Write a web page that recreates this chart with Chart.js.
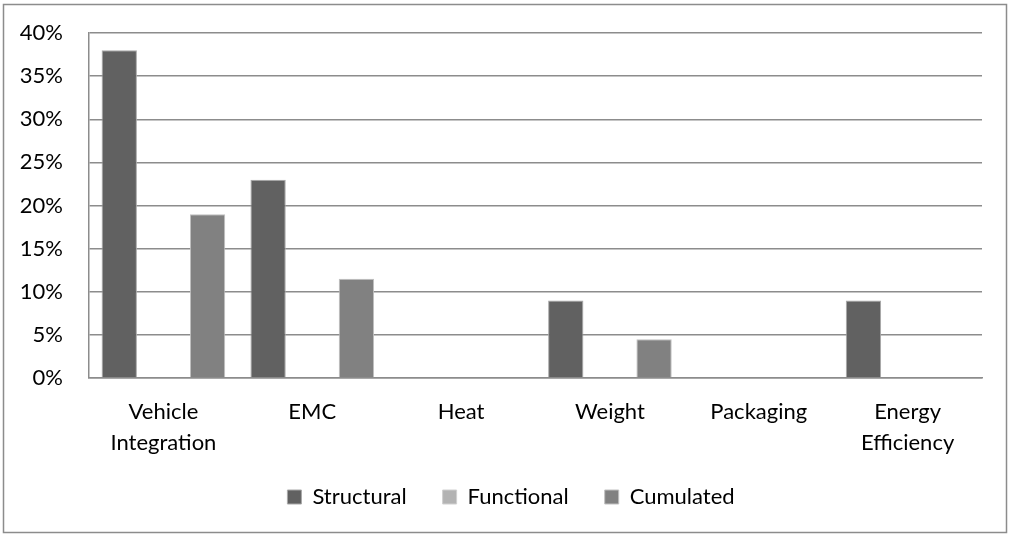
<!DOCTYPE html>
<html>
<head>
<meta charset="utf-8">
<script src="https://cdn.jsdelivr.net/npm/chart.js@4"></script>
<style>
html,body{margin:0;padding:0;background:#fff;}
#wrap{position:absolute;left:0;top:0;width:1010px;height:536px;}
</style>
</head>
<body>
<div id="wrap"><canvas id="c" width="1010" height="536"></canvas></div>
<script>
const categories = [["Vehicle","Integration"], "EMC", "Heat", "Weight", "Packaging", ["Energy","Efficiency"]];
const structural = [38, 23, 0, 9, 0, 9];
const functional = [0, 0, 0, 0, 0, 0];
const cumulated = [19, 11.5, 0, 4.5, 0, 0];
const yTicks = [0, 5, 10, 15, 20, 25, 30, 35, 40];

const FONT = "'Lato', 'Open Sans', sans-serif";

const borderPlugin = {
  id: 'outerBorder',
  beforeDraw(chart) {
    const ctx = chart.ctx;
    ctx.save();
    ctx.strokeStyle = '#8c8c8c';
    ctx.lineWidth = 1.5;
    ctx.strokeRect(3.5, 4.5, 1003, 528);
    ctx.restore();
  }
};

const legendShift = {
  id: 'legendShift',
  afterLayout(chart) {
    const lg = chart.legend;
    if (lg) { lg.top -= 16; lg.bottom -= 16; }
  }
};

new Chart(document.getElementById('c'), {
  type: 'bar',
  data: {
    labels: categories,
    datasets: [
      {label: 'Structural', data: structural, backgroundColor: '#616161', borderColor: '#a8a8a8', borderWidth: 1},
      {label: 'Functional', data: functional, backgroundColor: '#b3b3b3', borderColor: '#d0d0d0', borderWidth: 1},
      {label: 'Cumulated', data: cumulated, backgroundColor: '#818181', borderColor: '#c0c0c0', borderWidth: 1}
    ]
  },
  options: {
    responsive: false,
    animation: false,
    devicePixelRatio: 1,
    layout: {padding: {left: 12, right: 0, top: 33, bottom: 2}},
    datasets: {bar: {categoryPercentage: 0.89, barPercentage: 0.8}},
    plugins: {
      legend: {
        position: 'bottom',
        labels: {
          font: {family: FONT, size: 22},
          color: '#000',
          boxWidth: 14,
          boxHeight: 14,
          padding: 36
        }
      },
      tooltip: {enabled: false}
    },
    scales: {
      x: {
        grid: {display: false, drawTicks: false},
        border: {display: true, color: '#8c8c8c', width: 1.5},
        ticks: {font: {family: FONT, size: 22, lineHeight: 1.4}, color: '#000', padding: 19, maxRotation: 0, autoSkip: false},
        afterFit(s) { s.height = 88; }
      },
      y: {
        min: 0, max: 40,
        afterBuildTicks(s) { s.ticks = yTicks.map(v => ({value: v})); },
        grid: {color: '#8c8c8c', lineWidth: 1.5, drawTicks: false},
        border: {display: true, color: '#8c8c8c', width: 1.5},
        ticks: {font: {family: FONT, size: 22}, color: '#000', padding: 26, callback: v => v + '%'},
        afterFit(s) { s.width = 77; s.paddingTop = 0; s.paddingBottom = 0; }
      },
      yRight: {
        axis: 'y',
        position: 'right',
        min: 0, max: 40,
        grid: {display: false, drawTicks: false},
        border: {display: false},
        ticks: {display: false},
        afterFit(s) { s.width = 28; s.paddingTop = 0; s.paddingBottom = 0; }
      }
    }
  },
  plugins: [borderPlugin, legendShift]
});
</script>
</body>
</html>
